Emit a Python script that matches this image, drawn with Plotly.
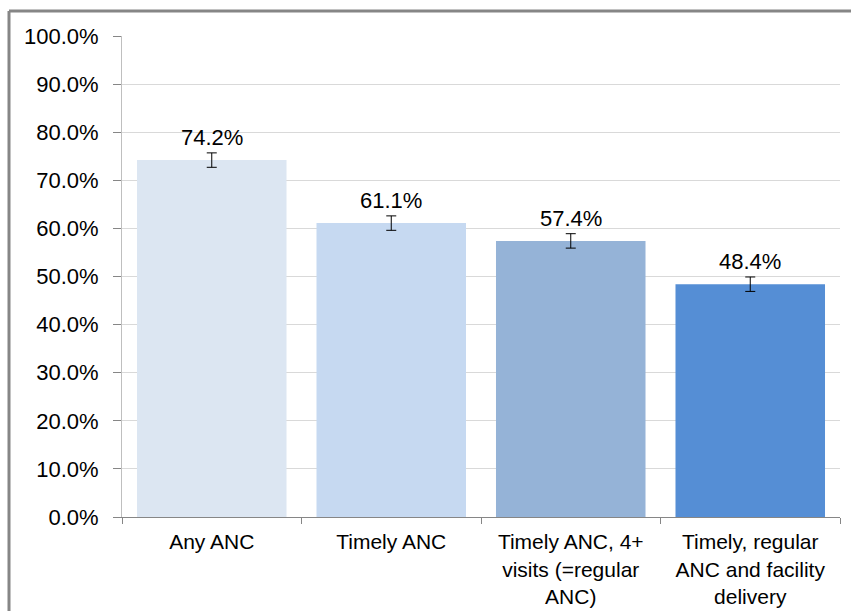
import plotly.graph_objects as go

categories = ["Any ANC", "Timely ANC", "Timely ANC, 4+<br>visits (=regular<br>ANC)",
              "Timely, regular<br>ANC and facility<br>delivery"]
values = [74.2, 61.1, 57.4, 48.4]
errors = [1.5, 1.5, 1.5, 1.5]
colors = ["#DCE6F2", "#C6D9F1", "#95B3D7", "#558ED5"]
tick_vals = [0, 10, 20, 30, 40, 50, 60, 70, 80, 90, 100]
tick_text = [f"{v:.1f}%" for v in tick_vals]

FONT = "Liberation Sans, Arial"

fig = go.Figure()
fig.add_trace(go.Bar(
    x=categories, y=values, marker=dict(color=colors, line=dict(width=0)),
    error_y=dict(type="data", array=errors, color="#000000", thickness=1, width=5),
    hoverinfo="skip",
))
for c, v, e in zip(categories, values, errors):
    fig.add_annotation(x=c, y=v + e, text=f"{v:.1f}%", showarrow=False,
                       yanchor="bottom", yshift=1,
                       font=dict(family=FONT, size=22, color="#000000"))

W, H = 851, 611
L, T, R, B = 122, 36, 11, 94
PW, PH = W - L - R, H - T - B

x_left = (9 - L) / PW
y_top = 1 + (T - 11) / PH

fig.update_layout(
    width=W, height=H,
    margin=dict(l=L, r=R, t=T, b=B, autoexpand=False),
    paper_bgcolor="white", plot_bgcolor="white",
    bargap=0.167, showlegend=False,
    font=dict(family=FONT, size=21, color="#000000"),
    xaxis=dict(showline=True, linecolor="#868686", linewidth=1, ticks="outside",
               tickcolor="#868686", ticklen=6, tickson="boundaries",
               tickfont=dict(size=21), showgrid=False, ticklabelstandoff=6),
    yaxis=dict(range=[0, 100], tickvals=tick_vals, ticktext=tick_text,
               showline=True, linecolor="#BFBFBF", linewidth=1, ticks="outside",
               tickcolor="#868686", ticklen=8, showgrid=True, gridcolor="#D9D9D9",
               gridwidth=1, zeroline=False, tickfont=dict(size=22), ticklabelstandoff=10),
    shapes=[
        dict(type="line", xref="paper", yref="paper", x0=x_left, x1=1 + (R + 30) / PW,
             y0=y_top, y1=y_top, line=dict(color="#868686", width=3)),
        dict(type="line", xref="paper", yref="paper", x0=x_left, x1=x_left,
             y0=y_top, y1=-(B + 30) / PH, line=dict(color="#868686", width=3)),
    ],
)
fig.write_html(
    "out.html",
    config={"displayModeBar": False},
    post_script="document.body.style.margin='0';document.body.style.overflow='hidden';"
                "document.documentElement.style.overflow='hidden';",
)
